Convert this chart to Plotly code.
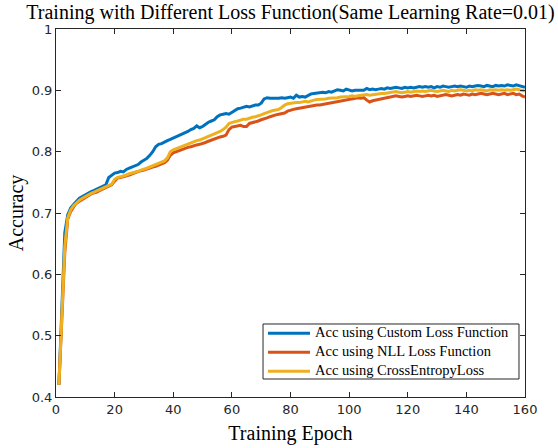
import plotly.graph_objects as go

epochs = list(range(1, 161))

acc_custom = [
    0.420, 0.560, 0.668, 0.697, 0.708, 0.714, 0.719, 0.724, 0.727, 0.730,
    0.733, 0.735, 0.737, 0.739, 0.741, 0.743, 0.746, 0.758, 0.762, 0.765,
    0.766, 0.768, 0.767, 0.771, 0.773, 0.775, 0.777, 0.779, 0.783, 0.786,
    0.789, 0.794, 0.800, 0.808, 0.812, 0.813, 0.816, 0.818, 0.820, 0.822,
    0.825, 0.826, 0.828, 0.830, 0.833, 0.836, 0.838, 0.842, 0.839, 0.841,
    0.845, 0.848, 0.850, 0.852, 0.857, 0.860, 0.861, 0.862, 0.861, 0.864,
    0.866, 0.870, 0.871, 0.873, 0.874, 0.873, 0.875, 0.876, 0.876, 0.879,
    0.886, 0.888, 0.887, 0.887, 0.886, 0.887, 0.888, 0.887, 0.888, 0.889,
    0.887, 0.892, 0.889, 0.890, 0.889, 0.892, 0.894, 0.895, 0.896, 0.897,
    0.897, 0.896, 0.898, 0.897, 0.899, 0.901, 0.900, 0.899, 0.902, 0.901,
    0.899, 0.900, 0.900, 0.901, 0.900, 0.903, 0.901, 0.902, 0.901, 0.902,
    0.903, 0.902, 0.904, 0.903, 0.904, 0.905, 0.904, 0.903, 0.905, 0.904,
    0.905, 0.904, 0.905, 0.906, 0.905, 0.906, 0.905, 0.906, 0.904, 0.906,
    0.905, 0.907, 0.906, 0.905, 0.906, 0.907, 0.906, 0.907, 0.906, 0.905,
    0.907, 0.906, 0.907, 0.908, 0.907, 0.906, 0.908, 0.907, 0.906, 0.908,
    0.907, 0.908, 0.907, 0.909, 0.908, 0.907, 0.909, 0.908, 0.907, 0.905,
]

acc_nll = [
    0.420, 0.520, 0.635, 0.690, 0.702, 0.710, 0.716, 0.719, 0.722, 0.726,
    0.729, 0.731, 0.733, 0.734, 0.737, 0.739, 0.742, 0.744, 0.746, 0.752,
    0.757, 0.758, 0.759, 0.761, 0.762, 0.764, 0.766, 0.767, 0.769, 0.770,
    0.772, 0.773, 0.775, 0.776, 0.778, 0.780, 0.782, 0.786, 0.794, 0.798,
    0.800, 0.802, 0.804, 0.805, 0.807, 0.808, 0.810, 0.811, 0.812, 0.813,
    0.815, 0.817, 0.819, 0.821, 0.823, 0.824, 0.825, 0.827, 0.836, 0.840,
    0.841, 0.842, 0.843, 0.841, 0.841, 0.846, 0.847, 0.848, 0.850, 0.852,
    0.853, 0.855, 0.857, 0.859, 0.860, 0.861, 0.862, 0.863, 0.866, 0.868,
    0.869, 0.870, 0.871, 0.871, 0.872, 0.873, 0.874, 0.875, 0.876, 0.876,
    0.877, 0.878, 0.879, 0.880, 0.881, 0.882, 0.883, 0.884, 0.885, 0.886,
    0.886, 0.887, 0.888, 0.887, 0.888, 0.884, 0.881, 0.883, 0.884, 0.885,
    0.886, 0.887, 0.888, 0.889, 0.890, 0.891, 0.890, 0.889, 0.890, 0.891,
    0.890, 0.891, 0.892, 0.891, 0.890, 0.891, 0.892, 0.891, 0.892, 0.890,
    0.891, 0.892, 0.893, 0.892, 0.891, 0.892, 0.893, 0.892, 0.894, 0.893,
    0.892, 0.894, 0.893, 0.894, 0.895, 0.894, 0.893, 0.894, 0.895, 0.894,
    0.893, 0.894, 0.895, 0.893, 0.894, 0.895, 0.893, 0.894, 0.891, 0.889,
]

acc_ce = [
    0.420, 0.530, 0.645, 0.692, 0.705, 0.712, 0.717, 0.721, 0.724, 0.727,
    0.730, 0.732, 0.734, 0.736, 0.738, 0.740, 0.742, 0.744, 0.747, 0.755,
    0.758, 0.759, 0.760, 0.762, 0.764, 0.765, 0.767, 0.768, 0.770, 0.771,
    0.773, 0.775, 0.777, 0.779, 0.781, 0.783, 0.785, 0.790, 0.800, 0.803,
    0.805, 0.807, 0.808, 0.810, 0.812, 0.814, 0.816, 0.818, 0.819, 0.821,
    0.823, 0.825, 0.827, 0.829, 0.830, 0.833, 0.836, 0.840, 0.846, 0.848,
    0.849, 0.850, 0.852, 0.853, 0.853, 0.855, 0.856, 0.857, 0.858, 0.860,
    0.862, 0.864, 0.865, 0.867, 0.868, 0.869, 0.872, 0.876, 0.878, 0.879,
    0.879, 0.880, 0.880, 0.881, 0.882, 0.881, 0.883, 0.884, 0.885, 0.885,
    0.886, 0.886, 0.887, 0.887, 0.888, 0.888, 0.889, 0.889, 0.890, 0.890,
    0.891, 0.890, 0.891, 0.892, 0.892, 0.893, 0.892, 0.893, 0.894, 0.894,
    0.895, 0.895, 0.896, 0.897, 0.897, 0.898, 0.897, 0.896, 0.897, 0.898,
    0.897, 0.898, 0.899, 0.898, 0.899, 0.898, 0.899, 0.900, 0.899, 0.898,
    0.899, 0.900, 0.899, 0.898, 0.900, 0.899, 0.900, 0.901, 0.900, 0.899,
    0.900, 0.899, 0.901, 0.900, 0.901, 0.900, 0.899, 0.901, 0.900, 0.901,
    0.900, 0.901, 0.900, 0.901, 0.900, 0.901, 0.902, 0.901, 0.900, 0.899,
]

series_names = [
    "Acc using Custom Loss Function",
    "Acc using NLL Loss Function",
    "Acc using CrossEntropyLoss",
]
series_colors = ["#0072BD", "#D95319", "#EDB120"]

serif = "Times New Roman, Liberation Serif, serif"
sans = "DejaVu Sans, sans-serif"
axis_color = "#262626"

fig = go.Figure()
for name, vals, col in zip(series_names, [acc_custom, acc_nll, acc_ce], series_colors):
    fig.add_trace(go.Scatter(
        x=epochs, y=vals, mode="lines",
        name='<span style="font-size:14.5px">' + name + "</span>",
        line=dict(color=col, width=3)))

axis_common = dict(
    showgrid=False, zeroline=False, showline=True, linecolor=axis_color,
    linewidth=1, ticks="inside", ticklen=5, tickcolor=axis_color,
    mirror="ticks", tickfont=dict(family=sans, size=13, color=axis_color),
    automargin=False,
)

# legend frame (MATLAB-style box)
fig.add_shape(type="rect", xref="paper", yref="paper",
              x0=0.4414, x1=0.9872, y0=0.0489, y1=0.1984,
              line=dict(color=axis_color, width=1), fillcolor="white", layer="below")

fig.update_layout(
    width=558, height=448,
    margin=dict(l=56, r=33, t=29, b=51),
    paper_bgcolor="white", plot_bgcolor="white",
    title=dict(text="Training with Different Loss Function(Same Learning Rate=0.01)",
               font=dict(family=serif, size=20, color="black"),
               x=0.5, xref="paper", xanchor="center",
               y=1 - 12 / 448, yref="container", yanchor="middle"),
    xaxis=dict(range=[0, 160], dtick=20, tick0=0,
               title=dict(text="Training Epoch", font=dict(family=serif, size=20, color="black"),
                          standoff=10),
               **axis_common),
    yaxis=dict(range=[0.4, 1], dtick=0.1, tick0=0.4,
               title=dict(text="Accuracy", font=dict(family=serif, size=20, color="black"),
                          standoff=2),
               **axis_common),
    legend=dict(x=0.4414, xanchor="left", y=0.2125, yanchor="top",
                bgcolor="rgba(0,0,0,0)", borderwidth=0,
                font=dict(family=serif, size=10, color="black"),
                tracegroupgap=0, itemwidth=42),
    showlegend=True,
)

fig.write_html("out.html",
               config={"displayModeBar": False},
               post_script="document.body.style.margin='0';document.body.style.padding='0';")
